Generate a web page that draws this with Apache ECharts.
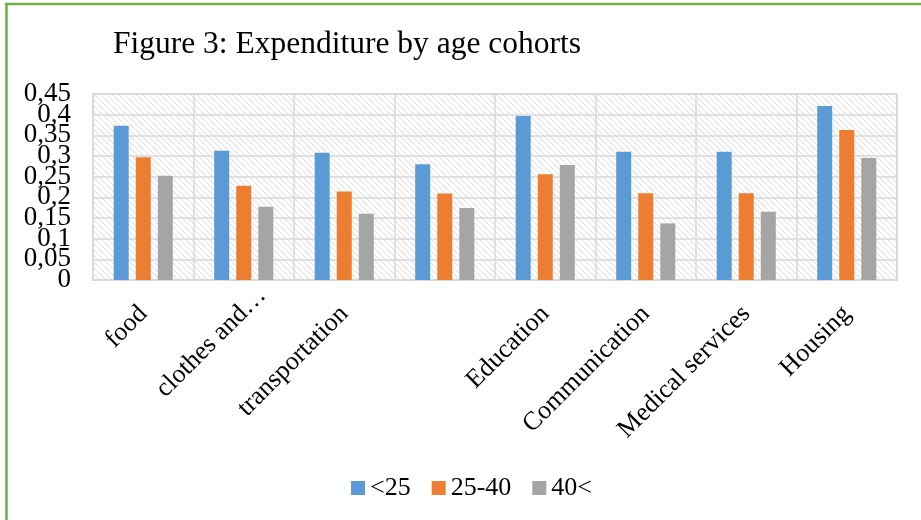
<!DOCTYPE html>
<html>
<head>
<meta charset="utf-8">
<script src="https://cdn.jsdelivr.net/npm/echarts@6/dist/echarts.min.js"></script>
<style>
html,body{margin:0;padding:0;background:#fff;}
#chart{width:921px;height:520px;}
</style>
</head>
<body>
<div id="chart"></div>
<script>
const categories = ['food', 'clothes and…', 'transportation', '', 'Education', 'Communication', 'Medical services', 'Housing'];
const seriesNames = ['<25', '25-40', '40<'];
const under25 = [0.373, 0.313, 0.308, 0.280, 0.397, 0.310, 0.310, 0.421];
const from25to40 = [0.297, 0.228, 0.214, 0.209, 0.256, 0.210, 0.210, 0.363];
const over40 = [0.252, 0.177, 0.160, 0.174, 0.278, 0.137, 0.165, 0.295];
const yTicks = { min: 0, max: 0.45, interval: 0.05 };

const FONT = '"Liberation Serif", "Times New Roman", serif';

// hatch pattern for plot background
const tile = document.createElement('canvas');
tile.width = 6; tile.height = 6;
const tc = tile.getContext('2d');
tc.fillStyle = '#ffffff';
tc.fillRect(0, 0, 6, 6);
tc.strokeStyle = '#dcdcdc';
tc.lineWidth = 1;
tc.beginPath();
tc.moveTo(-1, -1); tc.lineTo(7, 7);
tc.moveTo(-1, 5); tc.lineTo(1, 7);
tc.moveTo(5, -1); tc.lineTo(7, 1);
tc.stroke();

const fmt = (v) => String(Number(v.toFixed(2))).replace('.', ',');
const isEven = (v) => Math.round(v * 100) % 10 === 0;

function yAxisDef(showEven, withGrid) {
  return {
    type: 'value',
    position: 'left',
    offset: 0,
    min: yTicks.min, max: yTicks.max, interval: yTicks.interval,
    axisLine: { show: false },
    axisTick: { show: false },
    splitLine: { show: withGrid, lineStyle: { color: '#d9d9d9', width: 1.5 } },
    axisLabel: {
      margin: 22, fontFamily: FONT, fontSize: 27, color: '#000',
      showMinLabel: true, showMaxLabel: true, hideOverlap: false,
      formatter: (v) => (isEven(v) === showEven ? fmt(v) : '')
    }
  };
}

// truncated label sits further up-right in the original
const xData = categories.map((c) => (c.endsWith('…') ? { value: c, textStyle: { padding: [0, -26, 0, 0] } } : c));

const chart = echarts.init(document.getElementById('chart'), null, { renderer: 'canvas' });
const barStyle = (c) => ({ color: c });
chart.setOption({
  animation: false,
  backgroundColor: '#ffffff',
  title: {
    text: 'Figure 3: Expenditure by age cohorts',
    left: 108, top: 24,
    textStyle: { fontFamily: FONT, fontSize: 31.5, fontWeight: 'normal', color: '#000' }
  },
  graphic: [
    { type: 'line', shape: { x1: 5, y1: 4, x2: 921, y2: 4 }, style: { stroke: '#70AD47', lineWidth: 2.5 } },
    { type: 'line', shape: { x1: 6.5, y1: 3, x2: 6.5, y2: 520 }, style: { stroke: '#70AD47', lineWidth: 2.5 } }
  ],
  legend: {
    data: seriesNames,
    left: 346, top: 470,
    icon: 'rect',
    itemWidth: 14, itemHeight: 14, itemGap: 21,
    textStyle: { fontFamily: FONT, fontSize: 26, color: '#000' }
  },
  grid: {
    left: 93, right: 24, top: 94, bottom: 240,
    show: true,
    backgroundColor: { image: tile, repeat: 'repeat' },
    borderColor: '#d9d9d9', borderWidth: 1.5
  },
  xAxis: {
    type: 'category',
    data: xData,
    axisLine: { show: true, lineStyle: { color: '#d9d9d9', width: 2 } },
    axisTick: { show: false },
    splitLine: { show: true, lineStyle: { color: '#d9d9d9', width: 1.5 } },
    axisLabel: { interval: 0, rotate: 45, margin: 30, fontFamily: FONT, fontSize: 26, color: '#000' }
  },
  yAxis: [yAxisDef(true, true), yAxisDef(false, false)],
  series: [
    { name: seriesNames[0], type: 'bar', data: under25, barWidth: 15, barGap: '47%', itemStyle: barStyle('#5B9BD5') },
    { name: seriesNames[1], type: 'bar', data: from25to40, barWidth: 15, barGap: '47%', itemStyle: barStyle('#ED7D31') },
    { name: seriesNames[2], type: 'bar', data: over40, barWidth: 15, barGap: '47%', itemStyle: barStyle('#A5A5A5') }
  ]
});
</script>
</body>
</html>
